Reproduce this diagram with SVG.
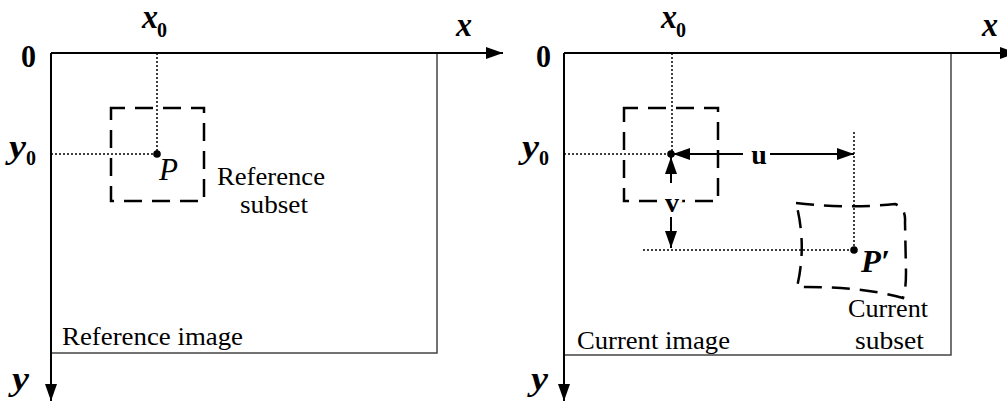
<svg xmlns="http://www.w3.org/2000/svg" width="1007" height="403" viewBox="0 0 1007 403">
<style>
.axis{stroke:#000;stroke-width:2;fill:none}
.frame{stroke:#444;stroke-width:1.5;fill:none}
.dot{stroke:#000;stroke-width:1.5;stroke-dasharray:2 2;fill:none}
.dash{stroke:#000;stroke-width:2.5;fill:none;stroke-dasharray:18 10}
.arr{stroke:#000;stroke-width:2;fill:none}
.lbl{font-family:"Liberation Serif","Times New Roman",serif;font-size:26px;fill:#000}
.it{font-family:"Liberation Serif","Times New Roman",serif;font-style:italic;font-weight:bold;fill:#000}
.itr{font-family:"Liberation Serif","Times New Roman",serif;font-style:italic;fill:#000}
.sub{font-family:"Liberation Serif","Times New Roman",serif;font-weight:bold;font-size:20px;fill:#000}
.bd{font-family:"Liberation Serif","Times New Roman",serif;font-weight:bold;fill:#000}
</style>
<defs>
<marker id="ah" markerUnits="userSpaceOnUse" markerWidth="18" markerHeight="12" refX="17" refY="6" orient="auto"><path d="M0,0 L17,6 L0,12 Z" fill="#000"/></marker>
<marker id="sh" markerUnits="userSpaceOnUse" markerWidth="18" markerHeight="12" refX="17" refY="6" orient="auto"><path d="M0,0 L17,6 L0,12 Z" fill="#000"/></marker>
</defs>

<g id="reference-image">
<path class="frame" d="M51,353 H437 V53"/>
<path class="axis" d="M51,53 H503" marker-end="url(#ah)"/>
<path class="axis" d="M51,53 V401" marker-end="url(#ah)"/>
<text class="bd" x="21" y="67" font-size="32" textLength="15" lengthAdjust="spacingAndGlyphs">0</text>
<text class="it" x="142" y="28" font-size="34" textLength="16" lengthAdjust="spacingAndGlyphs">x</text><text class="sub" x="157" y="37">0</text>
<text class="it" x="456" y="36" font-size="34" textLength="16" lengthAdjust="spacingAndGlyphs">x</text>
<text class="it" x="9" y="158" font-size="34" textLength="17" lengthAdjust="spacingAndGlyphs">y</text><text class="sub" x="26" y="165">0</text>
<text class="it" x="12" y="390" font-size="34" textLength="17" lengthAdjust="spacingAndGlyphs">y</text>
<text class="lbl" x="62" y="345" textLength="181" lengthAdjust="spacingAndGlyphs">Reference image</text>
</g>

<g id="reference-subset">
<rect class="dash" x="111" y="108" width="93" height="93" stroke-dashoffset="4"/>
<text class="lbl" x="217" y="185" textLength="108" lengthAdjust="spacingAndGlyphs">Reference</text>
<text class="lbl" x="240" y="213" textLength="68" lengthAdjust="spacingAndGlyphs">subset</text>
</g>

<g id="point-P">
<path class="dot" d="M157,53 V154 M51,154 H157"/>
<circle cx="157" cy="154" r="3.8" fill="#000"/>
<text class="itr" x="159" y="180" font-size="32" textLength="19" lengthAdjust="spacingAndGlyphs">P</text>
</g>

<g id="current-image">
<path class="frame" d="M564,355 H951 V53"/>
<path class="axis" d="M564,53 H1017" marker-end="url(#ah)"/>
<path class="axis" d="M564,53 V401" marker-end="url(#ah)"/>
<text class="bd" x="536" y="67" font-size="32" textLength="15" lengthAdjust="spacingAndGlyphs">0</text>
<text class="it" x="661" y="28" font-size="34" textLength="16" lengthAdjust="spacingAndGlyphs">x</text><text class="sub" x="676" y="37">0</text>
<text class="it" x="982" y="36" font-size="34" textLength="16" lengthAdjust="spacingAndGlyphs">x</text>
<text class="it" x="522" y="158" font-size="34" textLength="17" lengthAdjust="spacingAndGlyphs">y</text><text class="sub" x="539" y="165">0</text>
<text class="it" x="531" y="390" font-size="34" textLength="17" lengthAdjust="spacingAndGlyphs">y</text>
<text class="lbl" x="577" y="349" textLength="153" lengthAdjust="spacingAndGlyphs">Current image</text>
</g>

<g id="current-subset-original">
<rect class="dash" x="624" y="108" width="94" height="93" stroke-dashoffset="4"/>
</g>

<g id="current-subset">
<path class="dash" d="M796,203 Q850,209 895,204 Q906,208 905,222 L906,272 Q906,290 903,298 Q860,286 797,287 Q807,245 796,203 Z"/>
<text class="lbl" x="848" y="317" textLength="80" lengthAdjust="spacingAndGlyphs">Current</text>
<text class="lbl" x="855" y="349" textLength="69" lengthAdjust="spacingAndGlyphs">subset</text>
</g>

<g id="point-P-prime">
<path class="dot" d="M854,132 V250 M643,250 H854"/>
<circle cx="854" cy="250" r="3.8" fill="#000"/>
<text class="it" x="861" y="272" font-size="32" textLength="29" lengthAdjust="spacingAndGlyphs">P′</text>
</g>

<g id="connectors">
<path class="dot" d="M672,53 V154 M564,154 H671"/>
<circle cx="671" cy="154" r="3.8" fill="#000"/>
<path class="arr" d="M743,154 H673" marker-end="url(#sh)"/>
<path class="arr" d="M770,154 H854" marker-end="url(#sh)"/>
<path class="arr" d="M671,183 V157" marker-end="url(#sh)"/>
<path class="arr" d="M671,217 V248" marker-end="url(#sh)"/>
<text class="bd" x="759" y="164" font-size="28" text-anchor="middle">u</text>
<text class="bd" x="672" y="212" font-size="28" text-anchor="middle" stroke="#fff" stroke-width="6" paint-order="stroke">v</text>
</g>
</svg>
